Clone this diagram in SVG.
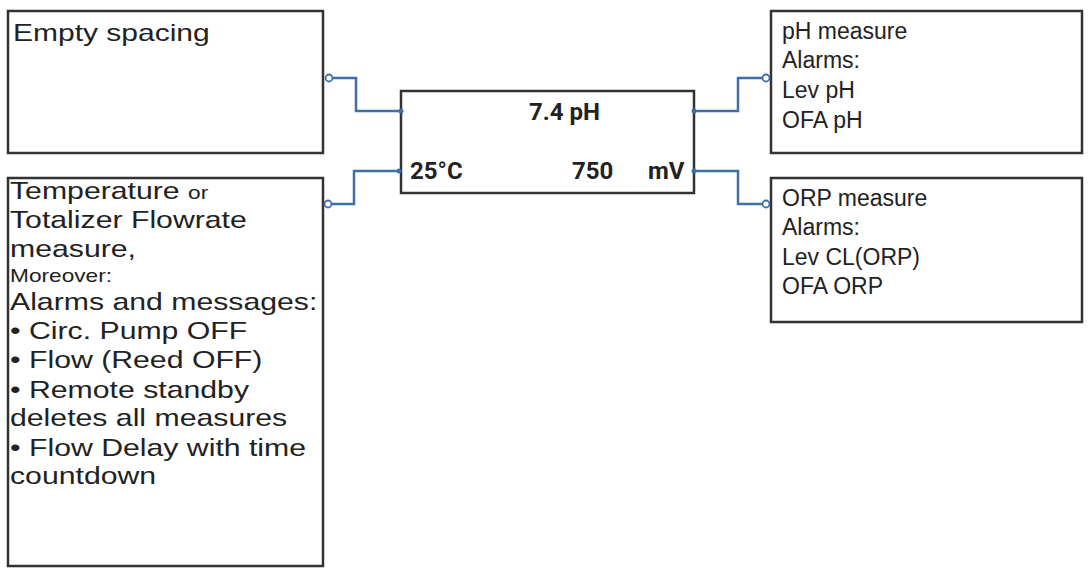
<svg xmlns="http://www.w3.org/2000/svg" width="1092" height="570" viewBox="0 0 1092 570">
<style>
.box{fill:#fff;stroke:#333;stroke-width:2.5}
.t{font-family:"Liberation Sans",Arial,sans-serif;font-size:23px;fill:#222}
.l{font-size:24px}
.s{font-size:18px}
.b{font-family:"Roboto","Liberation Sans",sans-serif;font-size:24px;font-weight:bold;fill:#222}
.c{fill:none;stroke:#3f6fa6;stroke-width:2.5}
.o{fill:#fff;stroke:#3f6fa6;stroke-width:1.8}
.d{fill:#3f6fa6}
</style>
<rect width="1092" height="570" fill="#fff"/>
<g id="empty"><rect class="box" x="8" y="11" width="315" height="142"/><text class="t l" transform="matrix(1.25 0 0 1 13 0)" x="0" y="41">Empty spacing</text></g>
<g id="temp"><rect class="box" x="8" y="178" width="315" height="388"/>
<text class="t l" transform="matrix(1.26 0 0 1 10 0)"><tspan x="0" y="199">Temperature <tspan class="s">or</tspan></tspan><tspan x="0" y="228">Totalizer Flowrate</tspan><tspan x="0" y="257">measure,</tspan><tspan x="0" y="282" class="s">Moreover:</tspan><tspan x="0" y="310">Alarms and messages:</tspan><tspan x="0" y="339">• Circ. Pump OFF</tspan><tspan x="0" y="368">• Flow (Reed OFF)</tspan><tspan x="0" y="398">• Remote standby</tspan><tspan x="0" y="426">deletes all measures</tspan><tspan x="0" y="456">• Flow Delay with time</tspan><tspan x="0" y="484">countdown</tspan></text></g>
<g id="display"><rect class="box" x="401" y="91" width="293" height="102"/>
<text class="b" x="529" y="120">7.4 pH</text><text class="b" x="410" y="179">25°C</text><text class="b" x="572" y="179">750</text><text class="b" x="648" y="179">mV</text></g>
<g id="ph"><rect class="box" x="771" y="11" width="311" height="142"/>
<text class="t"><tspan x="782" y="39">pH measure</tspan><tspan x="782" y="68">Alarms:</tspan><tspan x="782" y="98">Lev pH</tspan><tspan x="782" y="128">OFA pH</tspan></text></g>
<g id="orp"><rect class="box" x="771" y="178" width="311" height="144"/>
<text class="t"><tspan x="782" y="206">ORP measure</tspan><tspan x="782" y="235">Alarms:</tspan><tspan x="782" y="265">Lev CL(ORP)</tspan><tspan x="782" y="294">OFA ORP</tspan></text></g>
<g id="connectors">
<path class="c" d="M333 78H356V111H401"/><circle class="o" cx="329" cy="78" r="3.5"/><circle class="d" cx="401" cy="111" r="2.5"/>
<path class="c" d="M399 171H354V204H332"/><circle class="o" cx="328" cy="204" r="3.5"/><circle class="d" cx="399" cy="171" r="2.5"/>
<path class="c" d="M694 111H738V78H762"/><circle class="o" cx="766" cy="78" r="3.5"/><circle class="d" cx="694" cy="111" r="2.5"/>
<path class="c" d="M694 171H738V204H762"/><circle class="o" cx="766" cy="204" r="3.5"/><circle class="d" cx="694" cy="171" r="2.5"/>
</g>
</svg>
